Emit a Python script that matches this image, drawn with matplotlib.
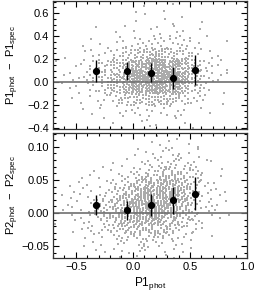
import numpy as np
import matplotlib
matplotlib.use("Agg")
import matplotlib.pyplot as plt
from matplotlib.ticker import MultipleLocator

plt.rcParams['font.family'] = ['Liberation Sans', 'DejaVu Sans']
plt.rcParams['mathtext.fontset'] = 'custom'
plt.rcParams['mathtext.rm'] = 'Liberation Sans'
plt.rcParams['mathtext.it'] = 'Liberation Sans'
plt.rcParams['mathtext.default'] = 'regular'

# ---- binned points (filled circles with error bars) ----
bin_x = [-0.32, -0.05, 0.155, 0.35, 0.546]
p1_mean = [0.100, 0.100, 0.084, 0.041, 0.107]
p1_err = [0.095, 0.080, 0.085, 0.095, 0.130]
p2_mean = [0.012, 0.004, 0.012, 0.019, 0.029]
p2_err = [0.015, 0.014, 0.017, 0.020, 0.025]

# ---- scatter cloud, read as counts per cell (x bins of 0.1) ----
x_edges = [-0.7, -0.6, -0.5, -0.4, -0.3, -0.2, -0.1, 0.0, 0.1, 0.2, 0.3,
           0.4, 0.5, 0.6, 0.7, 0.8, 0.9, 1.0]
# top panel: y bins of 0.1 from 0.7 (top) down to -0.4
top_y_edges = [0.7, 0.6, 0.5, 0.4, 0.3, 0.2, 0.1, 0.0, -0.1, -0.2, -0.3, -0.4]
top_counts = [
    [0, 0, 0, 0, 0, 0, 0, 1, 1, 1, 1, 0, 0, 0, 0, 0, 0],
    [0, 0, 0, 0, 0, 0, 0, 1, 1, 1, 1, 1, 0, 1, 0, 0, 0],
    [0, 0, 0, 1, 0, 1, 1, 1, 2, 2, 2, 2, 1, 0, 0, 0, 0],
    [0, 0, 1, 1, 1, 2, 3, 4, 5, 5, 5, 4, 2, 1, 0, 1, 0],
    [0, 1, 1, 2, 3, 5, 9, 12, 14, 14, 12, 8, 5, 2, 1, 0, 0],
    [1, 1, 2, 5, 7, 13, 20, 27, 32, 32, 27, 20, 11, 4, 2, 1, 0],
    [1, 2, 3, 5, 9, 17, 26, 36, 40, 40, 36, 25, 13, 5, 2, 1, 1],
    [1, 1, 2, 4, 7, 13, 21, 27, 31, 31, 27, 18, 9, 3, 1, 0, 0],
    [0, 1, 1, 2, 3, 6, 9, 12, 13, 13, 12, 7, 4, 2, 1, 0, 0],
    [0, 0, 1, 1, 1, 2, 3, 3, 4, 3, 3, 2, 1, 1, 0, 0, 0],
    [0, 0, 0, 0, 1, 1, 1, 1, 2, 1, 1, 1, 1, 0, 0, 0, 0],
]
# bottom panel: y bins of 0.01 from 0.12 (top) down to -0.07
bot_y_edges = [0.12, 0.11, 0.10, 0.09, 0.08, 0.07, 0.06, 0.05, 0.04, 0.03,
               0.02, 0.01, 0.00, -0.01, -0.02, -0.03, -0.04, -0.05, -0.06, -0.07]
bot_counts = [
    [0, 0, 0, 0, 0, 0, 0, 0, 0, 1, 1, 0, 0, 0, 0, 0, 0],
    [0, 0, 0, 0, 0, 0, 0, 0, 1, 1, 1, 1, 1, 0, 0, 0, 0],
    [0, 0, 0, 0, 0, 0, 0, 1, 1, 2, 2, 1, 1, 0, 0, 0, 0],
    [0, 0, 0, 0, 0, 0, 1, 1, 2, 2, 3, 2, 1, 1, 0, 0, 0],
    [0, 0, 0, 0, 0, 1, 1, 1, 3, 3, 4, 3, 2, 1, 0, 0, 0],
    [0, 0, 0, 1, 1, 1, 1, 3, 4, 6, 6, 5, 3, 1, 1, 0, 0],
    [0, 0, 1, 1, 1, 1, 3, 5, 7, 9, 9, 6, 4, 1, 1, 0, 0],
    [0, 1, 1, 1, 1, 3, 5, 8, 11, 13, 12, 8, 5, 2, 1, 0, 0],
    [0, 1, 1, 1, 3, 5, 7, 12, 15, 16, 14, 10, 5, 2, 1, 1, 0],
    [1, 1, 1, 2, 3, 6, 10, 15, 18, 18, 15, 10, 5, 2, 1, 0, 0],
    [0, 1, 1, 3, 5, 8, 12, 17, 19, 18, 14, 9, 5, 2, 1, 1, 0],
    [1, 1, 1, 3, 5, 8, 12, 17, 18, 16, 13, 8, 4, 2, 1, 0, 1],
    [0, 1, 1, 3, 5, 8, 11, 14, 16, 14, 10, 7, 3, 1, 1, 1, 0],
    [1, 1, 1, 2, 4, 7, 9, 11, 12, 10, 8, 5, 3, 1, 0, 0, 0],
    [0, 1, 1, 2, 3, 5, 7, 8, 8, 7, 5, 3, 2, 1, 0, 0, 0],
    [0, 0, 1, 1, 2, 3, 4, 5, 5, 5, 3, 2, 1, 1, 0, 0, 0],
    [0, 0, 1, 1, 1, 2, 2, 3, 3, 3, 2, 1, 1, 0, 0, 0, 0],
    [0, 0, 0, 1, 1, 1, 1, 2, 2, 1, 1, 1, 1, 0, 0, 0, 0],
    [0, 0, 0, 0, 0, 1, 1, 1, 1, 1, 1, 0, 0, 0, 0, 0, 0],
]


def cells_to_points(counts, y_edges, seed_offset):
    """Spread each cell's count over the cell with a low-discrepancy layout."""
    a1, a2 = 0.7548776662466927, 0.5698402909980532
    xs, ys = [], []
    k = seed_offset
    for r, row in enumerate(counts):
        y_hi, y_lo = y_edges[r], y_edges[r + 1]
        for c, n in enumerate(row):
            x_lo, x_hi = x_edges[c], x_edges[c + 1]
            for _ in range(n):
                k += 1
                u = (0.5 + a1 * k) % 1.0
                v = (0.5 + a2 * k) % 1.0
                xs.append(x_lo + u * (x_hi - x_lo))
                ys.append(y_lo + v * (y_hi - y_lo))
    return np.array(xs), np.array(ys)


tx, ty = cells_to_points(top_counts, top_y_edges, 0)
bx, by = cells_to_points(bot_counts, bot_y_edges, 7919)

fig = plt.figure(figsize=(2.56, 2.93), dpi=100)
ax1 = fig.add_axes([0.207, 0.5597, 0.758, 0.4369])
ax2 = fig.add_axes([0.207, 0.1195, 0.758, 0.4266])

pt_color = '#ababab'
for ax, xs, ys, m, e in [(ax1, tx, ty, p1_mean, p1_err), (ax2, bx, by, p2_mean, p2_err)]:
    ax.scatter(xs, ys, s=0.9, marker='s', c=pt_color, linewidths=0, zorder=1)
    ax.axhline(0.0, color='#707070', lw=1.2, zorder=2)
    ax.errorbar(bin_x, m, yerr=e, fmt='o', color='black', ms=4.2,
                elinewidth=1.0, capsize=0, zorder=3)
    ax.set_xlim(-0.7, 1.0)
    ax.xaxis.set_major_locator(MultipleLocator(0.5))
    ax.xaxis.set_minor_locator(MultipleLocator(0.1))
    ax.tick_params(which='both', direction='in', top=True, right=True,
                   labelsize=8, width=0.8, pad=3)
    ax.tick_params(which='major', length=4)
    ax.tick_params(which='minor', length=2)
    for s in ax.spines.values():
        s.set_linewidth(0.9)
        s.set_color('#333333')

ax1.set_ylim(-0.405, 0.705)
ax1.yaxis.set_major_locator(MultipleLocator(0.2))
ax1.yaxis.set_minor_locator(MultipleLocator(0.05))
ax1.tick_params(labelbottom=False)
ax1.set_ylabel(r'P1$_{\rm phot}$  $-$  P1$_{\rm spec}$', fontsize=8)

ax2.set_ylim(-0.068, 0.121)
ax2.yaxis.set_major_locator(MultipleLocator(0.05))
ax2.yaxis.set_minor_locator(MultipleLocator(0.01))
ax2.set_ylabel(r'P2$_{\rm phot}$  $-$  P2$_{\rm spec}$', fontsize=8)
ax2.set_xlabel(r'P1$_{\rm phot}$', fontsize=8.5, labelpad=2)

for ax in (ax1, ax2):
    ax.yaxis.set_label_coords(-0.165, 0.5)

fig.savefig('out.png', dpi=100)
